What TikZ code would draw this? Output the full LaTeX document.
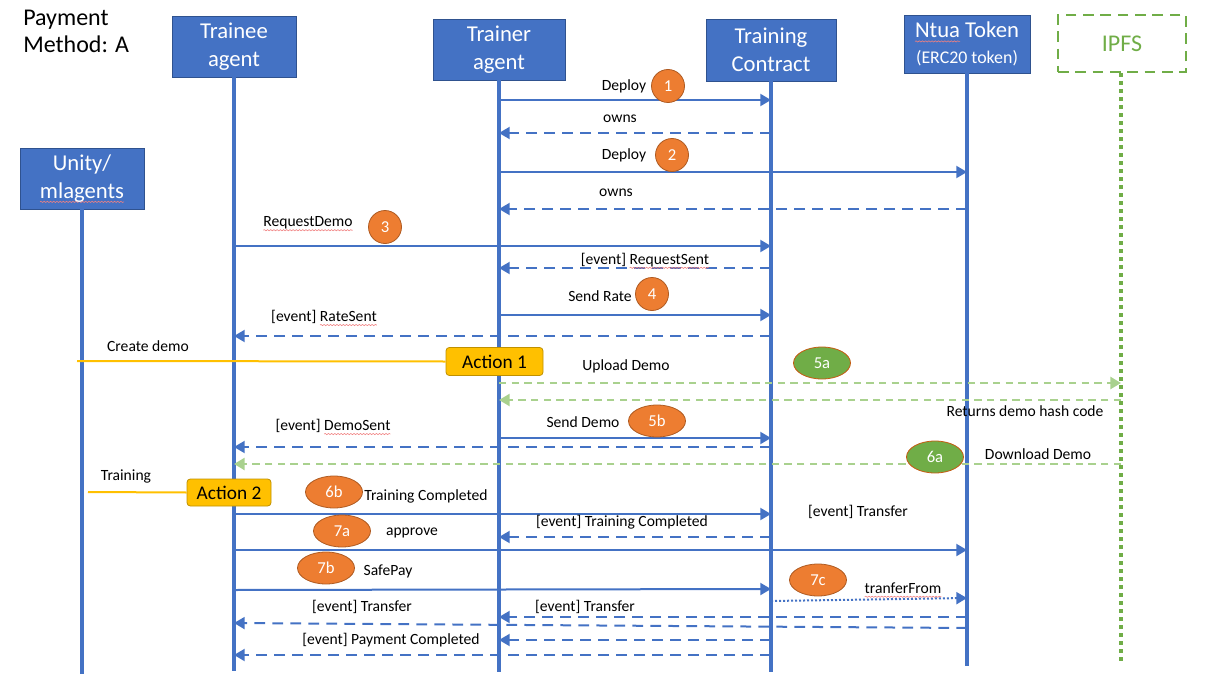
\documentclass[tikz,border=0pt]{standalone}
\usepackage{fontspec}
\setmainfont{Carlito}
\usetikzlibrary{arrows.meta,shapes.geometric,decorations.pathmorphing}

\definecolor{msblue}{HTML}{4472C4}
\definecolor{boxedge}{HTML}{2F528F}
\definecolor{msorange}{HTML}{ED7D31}
\definecolor{orangeedge}{HTML}{AE5A21}
\definecolor{msgreen}{HTML}{70AD47}
\definecolor{greenedge}{HTML}{C55A11}
\definecolor{lightgreen}{HTML}{A9D18E}
\definecolor{msyellow}{HTML}{FFC000}
\definecolor{yellowedge}{HTML}{BF9000}
\definecolor{spellred}{HTML}{F08080}

% wavy red underline used for flagged words
\newsavebox\spellbox
\newcommand\spellu[1]{\sbox\spellbox{#1}\leavevmode\rlap{\tikz[overlay,baseline=0pt,x=1pt,y=1pt]
  \draw[spellred, line width=0.45pt, decorate,
    decoration={snake,amplitude=0.45pt,segment length=2.4pt}]
    (0pt,-2.6pt) -- (\wd\spellbox,-2.6pt);}\usebox\spellbox}

\begin{document}
\begin{tikzpicture}[x=0.75pt,y=-0.75pt,
  actor/.style={rectangle, fill=msblue, draw=boxedge, line width=0.6pt, text=white,
    font=\fontsize{17}{21}\selectfont, align=center, inner sep=0pt},
  life/.style={draw=msblue, line width=3pt},
  msg/.style={draw=msblue, line width=1.5pt, -{Triangle[length=8pt,width=9pt]}},
  reply/.style={msg, dash pattern=on 8pt off 5.5pt},
  greenmsg/.style={draw=lightgreen, line width=1.8pt, dash pattern=on 5.5pt off 4pt,
    -{Triangle[length=8pt,width=9pt]}},
  lbl/.style={font=\fontsize{11.7}{13}\selectfont, text=black, inner sep=1pt},
  stepnum/.style={circle, fill=msorange, draw=orangeedge, line width=0.6pt, text=white,
    font=\fontsize{12.5}{14}\selectfont, minimum size=24.75pt, inner sep=0pt},
  stepoval/.style={ellipse, fill=msorange, draw=orangeedge, line width=0.6pt, text=white,
    font=\fontsize{12.5}{14}\selectfont, minimum width=42.75pt, minimum height=24pt, inner sep=0pt},
  greenoval/.style={stepoval, fill=msgreen, draw=greenedge},
  action/.style={rectangle, rounded corners=2.5pt, fill=msyellow, draw=yellowedge,
    line width=0.6pt, text=black, font=\fontsize{14.5}{16}\selectfont, inner sep=0pt},
  cue/.style={draw=msyellow, line width=1.5pt}
]
\useasboundingbox (0,0) rectangle (1206,674);

% title
\node[anchor=north west, align=left, inner sep=0pt, font=\fontsize{18}{20.5}\selectfont]
  (title) at (23,10) {Payment\\Method: A};

% participants
\node[actor, minimum width=93pt, minimum height=45.75pt] (trainee) at (234,46.5) {Trainee\\agent};
\node[actor, minimum width=99pt, minimum height=45.75pt] (trainer) at (499,49.5) {Trainer\\agent};
\node[actor, minimum width=97.5pt, minimum height=46.5pt] (contract) at (771,50) {Training\\Contract};
\node[actor, minimum width=94.5pt, minimum height=43.5pt] (ntua) at (967,44)
  {\spellu{Ntua} Token\\[-2pt]{\fontsize{13.4}{15}\selectfont (ERC20 token)}};
\node[rectangle, draw=msgreen, line width=1.5pt, dash pattern=on 8pt off 5pt,
  minimum width=96pt, minimum height=42.75pt, text=msgreen, font=\fontsize{18}{21}\selectfont]
  (ipfs) at (1122,43.5) {IPFS};
\node[actor, minimum width=93pt, minimum height=45.75pt] (unity) at (82,178.5) {Unity/\\\spellu{mlagents}};

% lifeline ends
\coordinate (unityEnd) at (82,674);
\coordinate (traineeEnd) at (234,671);
\coordinate (trainerEnd) at (499,672);
\coordinate (contractEnd) at (771,672);
\coordinate (ntuaEnd) at (967,666);
\coordinate (ipfsEnd) at (1121,661);

\draw[life] (unity) -- (unityEnd);
\draw[life] (trainee) -- (traineeEnd);
\draw[life] (trainer) -- (trainerEnd);
\draw[life] (contract) -- (contractEnd);
\draw[life] (ntua) -- (ntuaEnd);
\draw[draw=msgreen, line width=3pt, dash pattern=on 3pt off 3pt] (ipfs.south -| ipfsEnd) -- (ipfsEnd);

% 1: deploy training contract
\draw[msg] (trainer |- 0,100) -- (contract |- 0,100);
\node[lbl] (lDeploy1) at (624,86) {Deploy};
\node[stepnum] (s1) at (668,86) {1};
\draw[reply] (contract |- 0,133) -- (trainer |- 0,133);
\node[lbl] (lOwns1) at (620,119) {owns};

% 2: deploy token
\draw[msg] (trainer |- 0,172) -- (ntua |- 0,172);
\node[lbl] (lDeploy2) at (624,155) {Deploy};
\node[stepnum] (s2) at (672,155) {2};
\draw[reply] (ntua |- 0,209) -- (trainer |- 0,209);
\node[lbl] (lOwns2) at (616,193) {owns};

% 3: request demo
\draw[msg] (trainee |- 0,246) -- (contract |- 0,246);
\node[lbl] (lReq) at (308,223) {\spellu{RequestDemo}};
\node[stepnum] (s3) at (385,227) {3};
\draw[reply] (contract |- 0,268) -- (trainer |- 0,268);
\node[lbl] (lReqSent) at (645,260) {[event] \spellu{RequestSent}};

% 4: send rate
\draw[msg] (trainer |- 0,315) -- (contract |- 0,315);
\node[lbl] (lRate) at (600,296) {Send Rate};
\node[stepnum] (s4) at (652,294) {4};
\draw[reply] (contract |- 0,336) -- (trainee |- 0,336);
\node[lbl] (lRateSent) at (324,317) {[event] \spellu{RateSent}};

% action 1: create demo
\node[action, minimum width=72.75pt, minimum height=21pt] (act1) at (494.5,361.5) {Action 1};
\coordinate (cdStart) at (77,361);
\draw[cue] (cdStart) -- (act1.west);
\node[lbl] (lCreate) at (148,346) {Create demo};

% 5a: upload demo to IPFS
\draw[greenmsg] (trainer |- 0,383) -- (ipfsEnd |- 0,383);
\node[lbl] (lUpload) at (626,366) {Upload Demo};
\node[greenoval] (s5a) at (822,363) {5a};
\draw[greenmsg] (ipfsEnd |- 0,400) -- (trainer |- 0,400);
\node[lbl] (lHash) at (1025,411) {Returns demo hash code};

% 5b: send demo
\draw[msg] (trainer |- 0,438) -- (contract |- 0,438);
\node[lbl] (lSendDemo) at (583,422) {Send Demo};
\node[stepoval] (s5b) at (657,421) {5b};
\draw[reply] (contract |- 0,447) -- (trainee |- 0,447);
\node[lbl] (lDemoSent) at (333,426) {[event] \spellu{DemoSent}};

% 6a: download demo
\draw[greenmsg] (ipfsEnd |- 0,464) -- (trainee |- 0,464);
\node[lbl] (lDownload) at (1038,454) {Download Demo};
\node[greenoval] (s6a) at (935,457) {6a};

% action 2: training
\node[action, minimum width=63pt, minimum height=20.25pt] (act2) at (229,492.5) {Action 2};
\coordinate (trStart) at (88,492);
\draw[cue] (trStart) -- (act2.west);
\node[lbl] (lTraining) at (126,476) {Training};

% 6b: training completed
\draw[msg] (trainee |- 0,514) -- (contract |- 0,514);
\node[lbl] (lTC) at (426,496) {Training Completed};
\node[stepoval] (s6b) at (334,492) {6b};
\draw[reply] (contract |- 0,537) -- (trainer |- 0,537);
\node[lbl] (lTCev) at (622,522) {[event] Training Completed};
\node[lbl] (lTransferTop) at (858,512) {[event] Transfer};

% 7a: approve
\draw[msg] (trainee |- 0,550) -- (ntua |- 0,550);
\node[lbl] (lApprove) at (412,533) {approve};
\node[stepoval] (s7a) at (342,531) {7a};

% 7b: safe pay
\draw[msg] (trainee |- 0,590) -- (contract |- 0,589);
\node[lbl] (lSafePay) at (388,571) {SafePay};
\node[stepoval] (s7b) at (326,568) {7b};

% 7c: transfer from
\draw[draw=msblue, line width=1.5pt, dash pattern=on 1.5pt off 1.5pt,
  -{Triangle[length=8pt,width=9pt]}] (contract |- 0,601) -- (ntua |- 0,598);
\node[lbl] (lTF) at (903,588) {\spellu{tranferFrom}};
\node[stepoval] (s7c) at (818,580) {7c};

% transfer and payment events
\draw[reply] (ntua |- 0,617) -- (trainer |- 0,617);
\node[lbl] (lTr2) at (585,607) {[event] Transfer};
\draw[reply] (ntua |- 0,628) -- (trainee |- 0,623);
\node[lbl] (lTr1) at (362,607) {[event] Transfer};
\draw[reply] (contract |- 0,640) -- (trainer |- 0,640);
\draw[reply] (contract |- 0,655) -- (trainee |- 0,655);
\node[lbl] (lPay) at (391,640) {[event] Payment Completed};
\end{tikzpicture}
\end{document}
